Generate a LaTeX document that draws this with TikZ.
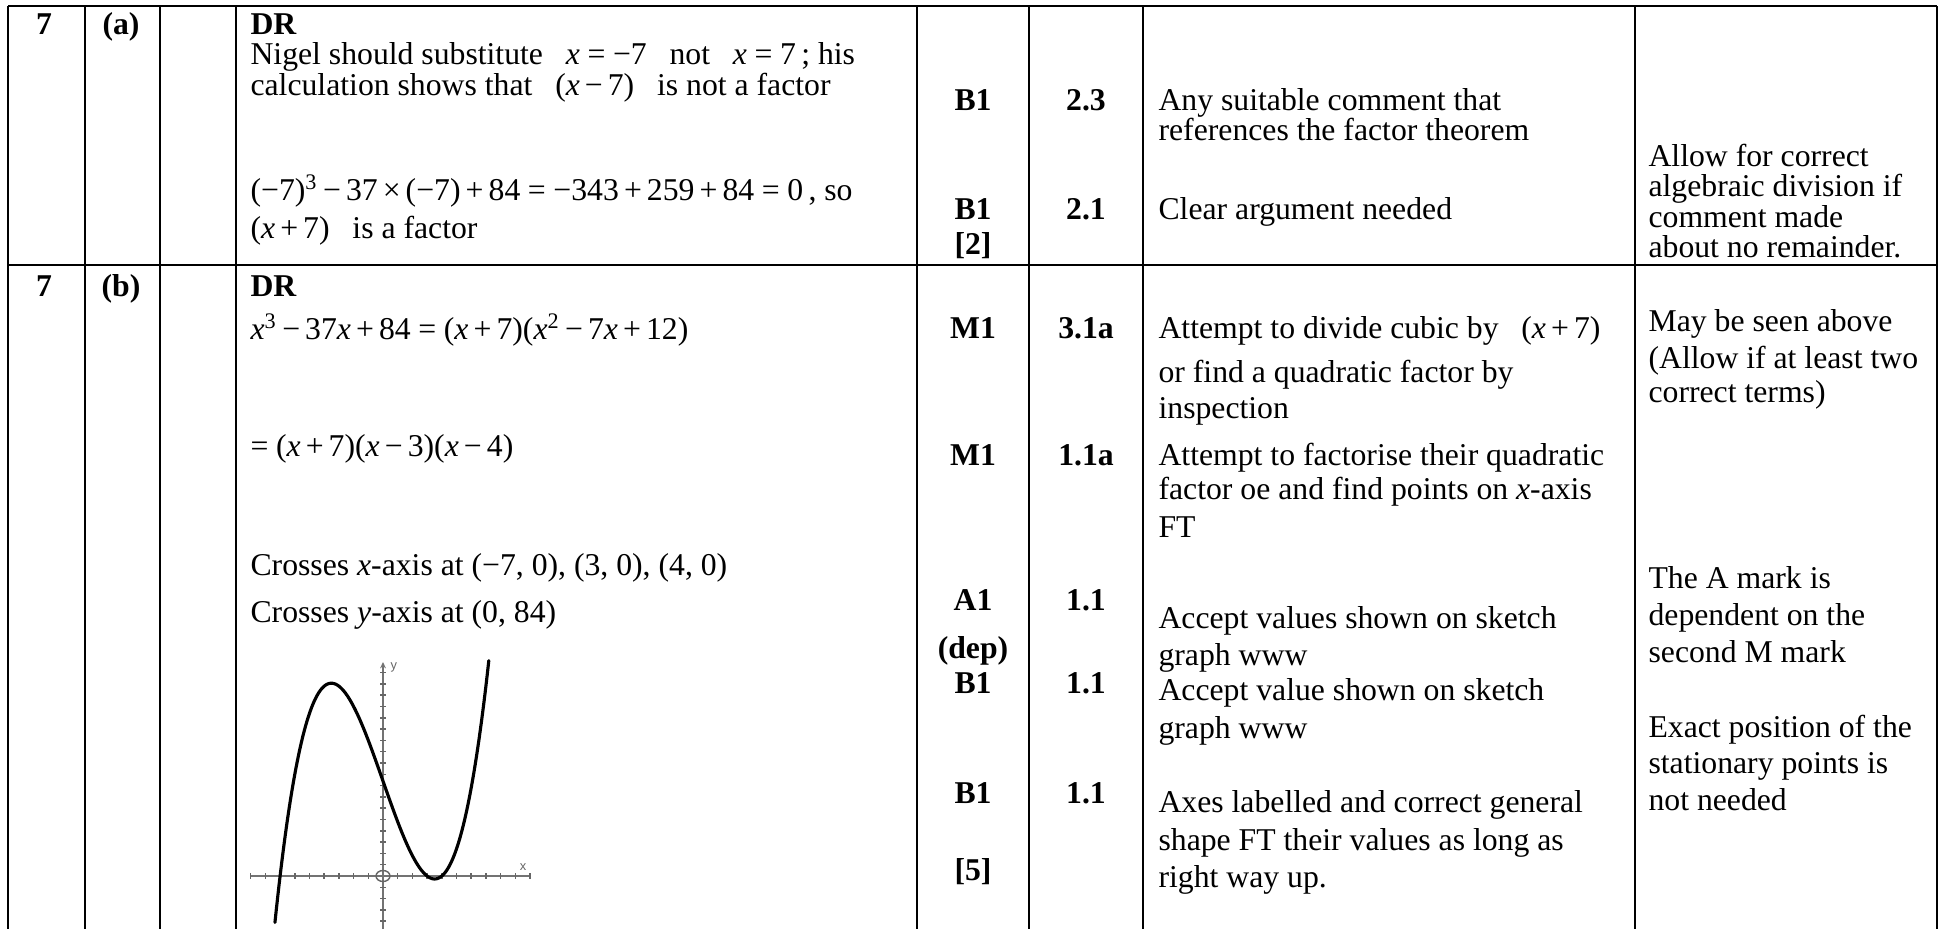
\documentclass[tikz,border=0pt]{standalone}
\usepackage{fontspec}
\setmainfont{Liberation Serif}
\setsansfont{Liberation Sans}
\usetikzlibrary{arrows.meta}
\newcommand\fs{\fontsize{11.1}{12.7}\selectfont}
\newcommand\vx{\textit{x}}
\newcommand\bop[1]{\hspace{0.16em}#1\hspace{0.16em}}
\newcommand\rel[1]{\hspace{0.24em}#1\hspace{0.24em}}
\newcommand\gap{\hspace{0.72em}}
\tikzset{
  tl/.style={anchor=base west, inner sep=0pt, font=\fs},
  tc/.style={anchor=base, inner sep=0pt, font=\fs},
  bc/.style={anchor=base, inner sep=0pt, font=\fs\bfseries},
  bl/.style={anchor=base west, inner sep=0pt, font=\fs\bfseries},
  gridline/.style={line width=0.9pt, black},
  axisline/.style={line width=0.7pt, draw=black!55},
  tickline/.style={line width=0.5pt, draw=black!60},
  curveline/.style={line width=1.1pt, black, line cap=round},
  axlabel/.style={inner sep=0pt, font=\sffamily\fontsize{4.5}{5}\selectfont, text=black!60}
}
\begin{document}
\begin{tikzpicture}[x=0.35pt,y=-0.35pt]
\useasboundingbox (0,0) rectangle (1939,929);
% grid
\foreach \xx in {8,85,160,236,917,1029,1143,1635,1937}
  \draw[gridline] (\xx,6) -- (\xx,929);
\draw[gridline] (8,6) -- (1937,6);
\draw[gridline] (8,265) -- (1937,265);

% ---------- row a ----------
\node[bc] (a7) at (44,35) {7};
\node[bc] (aa) at (121,35) {(a)};
\node[bl] (adr) at (250,35) {DR};
\node[tl] (a1) at (250,65) {Nigel should substitute\gap\vx\rel{=}−7\gap not\gap\vx\rel{=}7\,; his};
\node[tl] (a2) at (250,96) {calculation shows that\gap(\vx\bop{−}7)\gap is not a factor};
\node[tl] (a3) at (250,201) {(−7)\textsuperscript{3}\bop{−}37\bop{×}(−7)\bop{+}84\rel{=}−343\bop{+}259\bop{+}84\rel{=}0\,, so};
\node[tl] (a4) at (250,239) {(\vx\bop{+}7)\gap is a factor};

\node[bc] (am1) at (973,111) {B1};
\node[bc] (ao1) at (1086,111) {2.3};
\node[bc] (am2) at (973,220) {B1};
\node[bc] (ao2) at (1086,220) {2.1};
\node[bc] (am3) at (973,255) {[2]};

\node[tl] (ac1) at (1158,111) {Any suitable comment that};
\node[tl] (ac2) at (1158,141) {references the factor theorem};
\node[tl] (ac3) at (1158,220) {Clear argument needed};

\node[tl] (ag1) at (1648,167) {Allow for correct};
\node[tl] (ag2) at (1648,197) {algebraic division if};
\node[tl] (ag3) at (1648,227) {comment made};
\node[tl] (ag4) at (1648,257) {about no remainder.};

% ---------- row b ----------
\node[bc] (b7) at (44,297) {7};
\node[bc] (bb) at (121,297) {(b)};
\node[bl] (bdr) at (250,297) {DR};
\node[tl] (b1) at (250,340) {\vx\textsuperscript{3}\bop{−}37\vx\bop{+}84\rel{=}(\vx\bop{+}7)(\vx\textsuperscript{2}\bop{−}7\vx\bop{+}12)};
\node[tl] (b2) at (250,457) {=\hspace{0.24em}(\vx\bop{+}7)(\vx\bop{−}3)(\vx\bop{−}4)};
\node[tl] (b3) at (250,575) {Crosses \textit{x}-axis at (−7, 0), (3, 0), (4, 0)};
\node[tl] (b4) at (250,622) {Crosses \textit{y}-axis at (0, 84)};

\node[bc] (bm1) at (973,338) {M1};
\node[bc] (bo1) at (1086,338) {3.1a};
\node[bc] (bm2) at (973,465) {M1};
\node[bc] (bo2) at (1086,465) {1.1a};
\node[bc] (bm3) at (973,610) {A1};
\node[bc] (bo3) at (1086,610) {1.1};
\node[bc] (bm4) at (973,658) {(dep)};
\node[bc] (bm5) at (973,693) {B1};
\node[bc] (bo5) at (1086,693) {1.1};
\node[bc] (bm6) at (973,803) {B1};
\node[bc] (bo6) at (1086,803) {1.1};
\node[bc] (bm7) at (973,880) {[5]};

\node[tl] (bc1) at (1158,338) {Attempt to divide cubic by\gap(\vx\bop{+}7)};
\node[tl] (bc2) at (1158,382) {or find a quadratic factor by};
\node[tl] (bc3) at (1158,418) {inspection};
\node[tl] (bc4) at (1158,465) {Attempt to factorise their quadratic};
\node[tl] (bc5) at (1158,500) {factor oe and find points on \textit{x}-axis};
\node[tl] (bc6) at (1158,537) {FT};
\node[tl] (bc7) at (1158,628) {Accept values shown on sketch};
\node[tl] (bc8) at (1158,665) {graph www};
\node[tl] (bc9) at (1158,700) {Accept value shown on sketch};
\node[tl] (bc10) at (1158,738) {graph www};
\node[tl] (bc11) at (1158,812) {Axes labelled and correct general};
\node[tl] (bc12) at (1158,850) {shape FT their values as long as};
\node[tl] (bc13) at (1158,887) {right way up.};

\node[tl] (bg1) at (1648,332) {May be seen above};
\node[tl] (bg2) at (1648,368) {(Allow if at least two};
\node[tl] (bg3) at (1648,403) {correct terms)};
\node[tl] (bg4) at (1648,588) {The A mark is};
\node[tl] (bg5) at (1648,625) {dependent on the};
\node[tl] (bg6) at (1648,662) {second M mark};
\node[tl] (bg7) at (1648,737) {Exact position of the};
\node[tl] (bg8) at (1648,773) {stationary points is};
\node[tl] (bg9) at (1648,810) {not needed};

% ---------- sketch graph ----------
\coordinate (xl) at (250,876);
\coordinate (xr) at (530,876);
\coordinate (yt) at (383,662);
\coordinate (yb) at (383,929);
\draw[axisline] (xl) -- (xr);
\draw[axisline,-{Stealth[length=2.2pt,width=2pt]}] (yb) -- (yt);
\foreach \k in {-9,...,-1,1,2,...,10}
  \draw[tickline] ({383+14.7*\k},873) -- ({383+14.7*\k},879);
\foreach \k in {-4,...,-1,1,2,...,18}
  \draw[tickline] (380,{876-11.3*\k}) -- (386,{876-11.3*\k});
\draw[tickline] (383,876) ellipse [x radius=7, y radius=5.5];
\node[axlabel, anchor=west] (ylab) at (390,667) {y};
\node[axlabel, anchor=south] (xlab) at (523,871) {x};
\draw[curveline] plot[domain=-7.35:7.2, samples=200, smooth] ({383+14.7*\x},{876-1.13*(\x*\x*\x-37*\x+84)});
\end{tikzpicture}
\end{document}
